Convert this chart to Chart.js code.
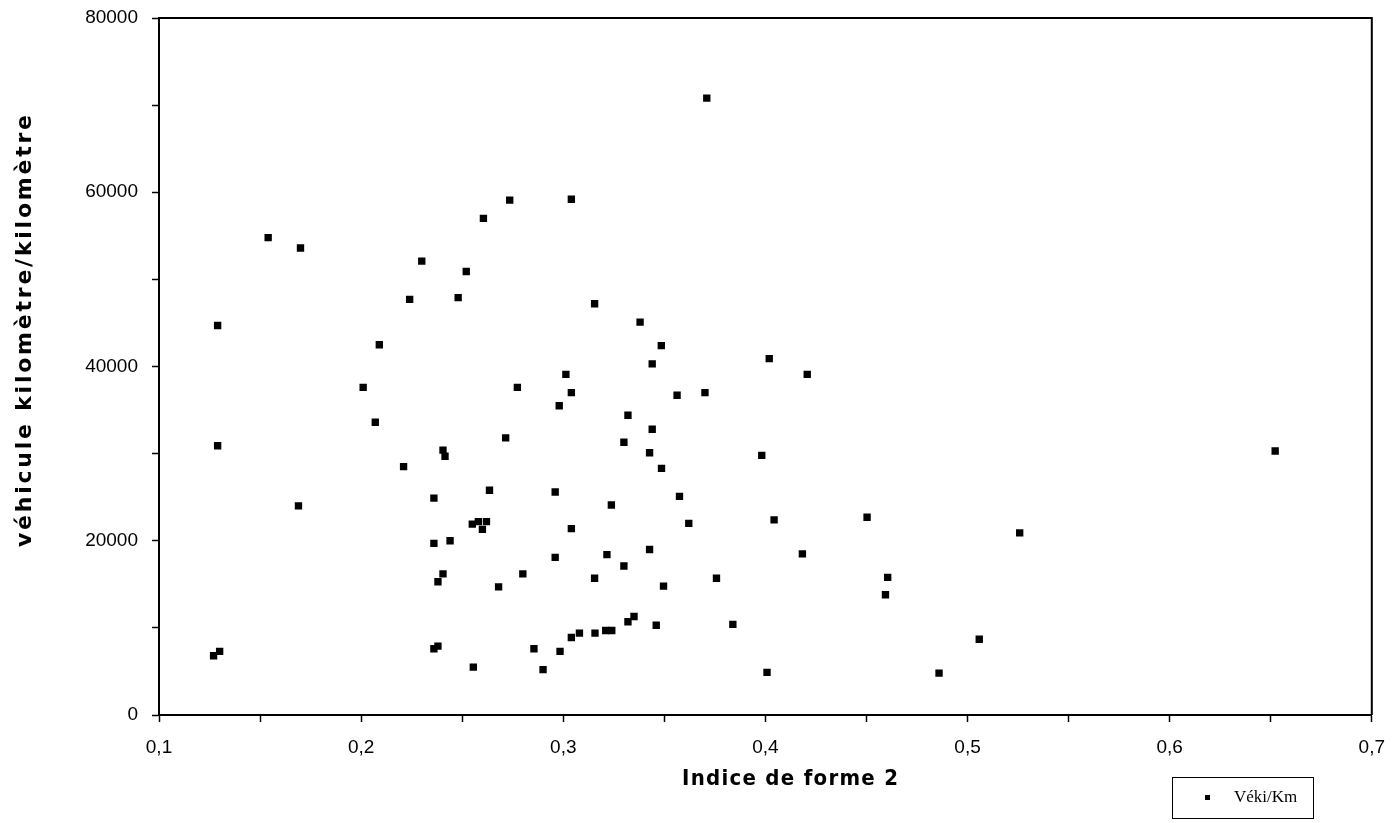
<!DOCTYPE html>
<html>
<head>
<meta charset="utf-8">
<script src="https://cdn.jsdelivr.net/npm/chart.js@4.4.0/dist/chart.umd.min.js"></script>
<style>
  html, body { margin: 0; padding: 0; background: #fff; }
</style>
</head>
<body>
<canvas id="mycanvas" width="1399" height="823"></canvas>
<script>
var indice = [
  0.127, 0.130, 0.129, 0.129, 0.154, 0.170, 0.169, 0.201, 0.207, 0.209,
  0.221, 0.224, 0.230, 0.236, 0.236, 0.236, 0.238, 0.238, 0.2405, 0.2405,
  0.2415, 0.244, 0.248, 0.252, 0.255, 0.2555, 0.258, 0.260, 0.2605, 0.262,
  0.2635, 0.268, 0.2715, 0.2735, 0.2773, 0.280, 0.2855, 0.290, 0.296, 0.296,
  0.298, 0.2984, 0.3013, 0.304, 0.304, 0.304, 0.304, 0.308, 0.3155, 0.3155,
  0.3157, 0.321, 0.3216, 0.324, 0.3238, 0.330, 0.330, 0.332, 0.332, 0.335,
  0.338, 0.3427, 0.3427, 0.344, 0.344, 0.346, 0.3485, 0.3486, 0.3496, 0.3563,
  0.3575, 0.3621, 0.3701, 0.371, 0.3758, 0.3839, 0.3982, 0.4008, 0.4019, 0.4043,
  0.4183, 0.4207, 0.4503, 0.4594, 0.4605, 0.4859, 0.5058, 0.5258, 0.6522
];
var vehKm = [
  6800, 7300, 44700, 30900, 54800, 53600, 24000, 37600, 33600, 42500,
  28500, 47700, 52100, 24900, 19700, 7600, 7900, 15300, 16200, 30400,
  29700, 20000, 47900, 50900, 21900, 5500, 22200, 21300, 57000, 22200,
  25800, 14700, 31800, 59100, 37600, 16200, 7600, 5200, 25600, 18100,
  35500, 7300, 39100, 37000, 21400, 8900, 59200, 9400, 47200, 15700,
  9400, 9700, 18400, 9700, 24100, 31300, 17100, 34400, 10700, 11300,
  45100, 30100, 19000, 40300, 32800, 10300, 42400, 28300, 14800, 36700,
  25100, 22000, 37000, 70800, 15700, 10400, 29800, 4900, 40900, 22400,
  18500, 39100, 22700, 13800, 15800, 4800, 8700, 20900, 30300
];
var xTickLabels = ['0,1', '0,2', '0,3', '0,4', '0,5', '0,6', '0,7'];
var yTickLabels = ['0', '20000', '40000', '60000', '80000'];
var xTitle = 'Indice de forme 2';
var yTitle = 'véhicule kilomètre/kilomètre';
var seriesName = 'Véki/Km';

var points = [];
for (var i in indice) {
  points.push({x: indice[i], y: vehKm[i]});
}

function spacedText(ctx, text, x, y, target) {
  ctx.letterSpacing = '0px';
  var w = ctx.measureText(text).width;
  var sp = (target - w) / (text.length - 1);
  ctx.letterSpacing = sp + 'px';
  ctx.textAlign = 'left';
  ctx.fillText(text, x - target / 2, y);
  ctx.letterSpacing = '0px';
}

var decor = {
  id: 'decor',
  afterDraw: function(chart) {
    var ctx = chart.ctx;
    var a = chart.chartArea;
    ctx.save();
    ctx.strokeStyle = '#000';
    ctx.lineWidth = 2;
    ctx.beginPath();
    ctx.moveTo(a.left, a.top);
    ctx.lineTo(a.right, a.top);
    ctx.lineTo(a.right, a.bottom);
    ctx.stroke();

    ctx.fillStyle = '#000';
    ctx.textBaseline = 'middle';
    ctx.font = 'bold 22px "DejaVu Sans Condensed", "DejaVu Sans"';
    spacedText(ctx, xTitle, 790, 779, 216);

    ctx.save();
    ctx.translate(25, 331);
    ctx.rotate(-Math.PI / 2);
    ctx.font = 'bold 22px "DejaVu Sans"';
    spacedText(ctx, yTitle, 0, 0, 432);
    ctx.restore();

    // legend
    ctx.fillStyle = '#fff';
    ctx.fillRect(1172, 777, 141, 41);
    ctx.strokeStyle = '#000';
    ctx.lineWidth = 1;
    ctx.strokeRect(1172.5, 777.5, 141, 41);
    ctx.fillStyle = '#000';
    ctx.fillRect(1205, 795, 5, 5);
    ctx.font = '17px "Liberation Serif"';
    ctx.textAlign = 'left';
    ctx.fillText(chart.data.datasets[0].label, 1234, 798);
    ctx.restore();
  }
};

var tickFont = {family: '"Liberation Sans", Arial', size: 19};

var ctx = document.getElementById('mycanvas');
var scatter = new Chart(ctx, {
  type: 'scatter',
  data: {
    datasets: [{
      label: seriesName,
      data: points,
      pointStyle: 'rect',
      pointRadius: 5.2,
      pointHoverRadius: 5.2,
      backgroundColor: '#000',
      borderColor: '#000',
      borderWidth: 0
    }]
  },
  options: {
    responsive: false,
    animation: false,
    devicePixelRatio: 1,
    layout: {padding: {top: 0, right: 22, left: 0, bottom: 0}},
    plugins: {
      legend: {display: false},
      tooltip: {enabled: false}
    },
    scales: {
      x: {
        type: 'linear',
        min: 0.1,
        max: 0.7,
        afterFit: function(s) { s.height = 108; },
        ticks: {
          stepSize: 0.05,
          autoSkip: false,
          maxRotation: 0,
          color: '#000',
          font: tickFont,
          padding: 14,
          callback: function(v) {
            var k = Math.round((v - 0.1) * 20);
            return k % 2 === 0 ? xTickLabels[k / 2] : '';
          }
        },
        grid: {drawOnChartArea: false, tickLength: 7, tickColor: '#000', tickWidth: 1.5},
        border: {color: '#000', width: 2}
      },
      y: {
        min: 0,
        max: 80000,
        afterFit: function(s) { s.width = 159; s.paddingTop = 18; },
        ticks: {
          stepSize: 10000,
          autoSkip: false,
          color: '#000',
          font: tickFont,
          padding: 14,
          callback: function(v) {
            return v % 20000 === 0 ? yTickLabels[v / 20000] : '';
          }
        },
        grid: {drawOnChartArea: false, tickLength: 7, tickColor: '#000', tickWidth: 1.5},
        border: {color: '#000', width: 2}
      }
    }
  },
  plugins: [decor]
});
</script>
</body>
</html>
